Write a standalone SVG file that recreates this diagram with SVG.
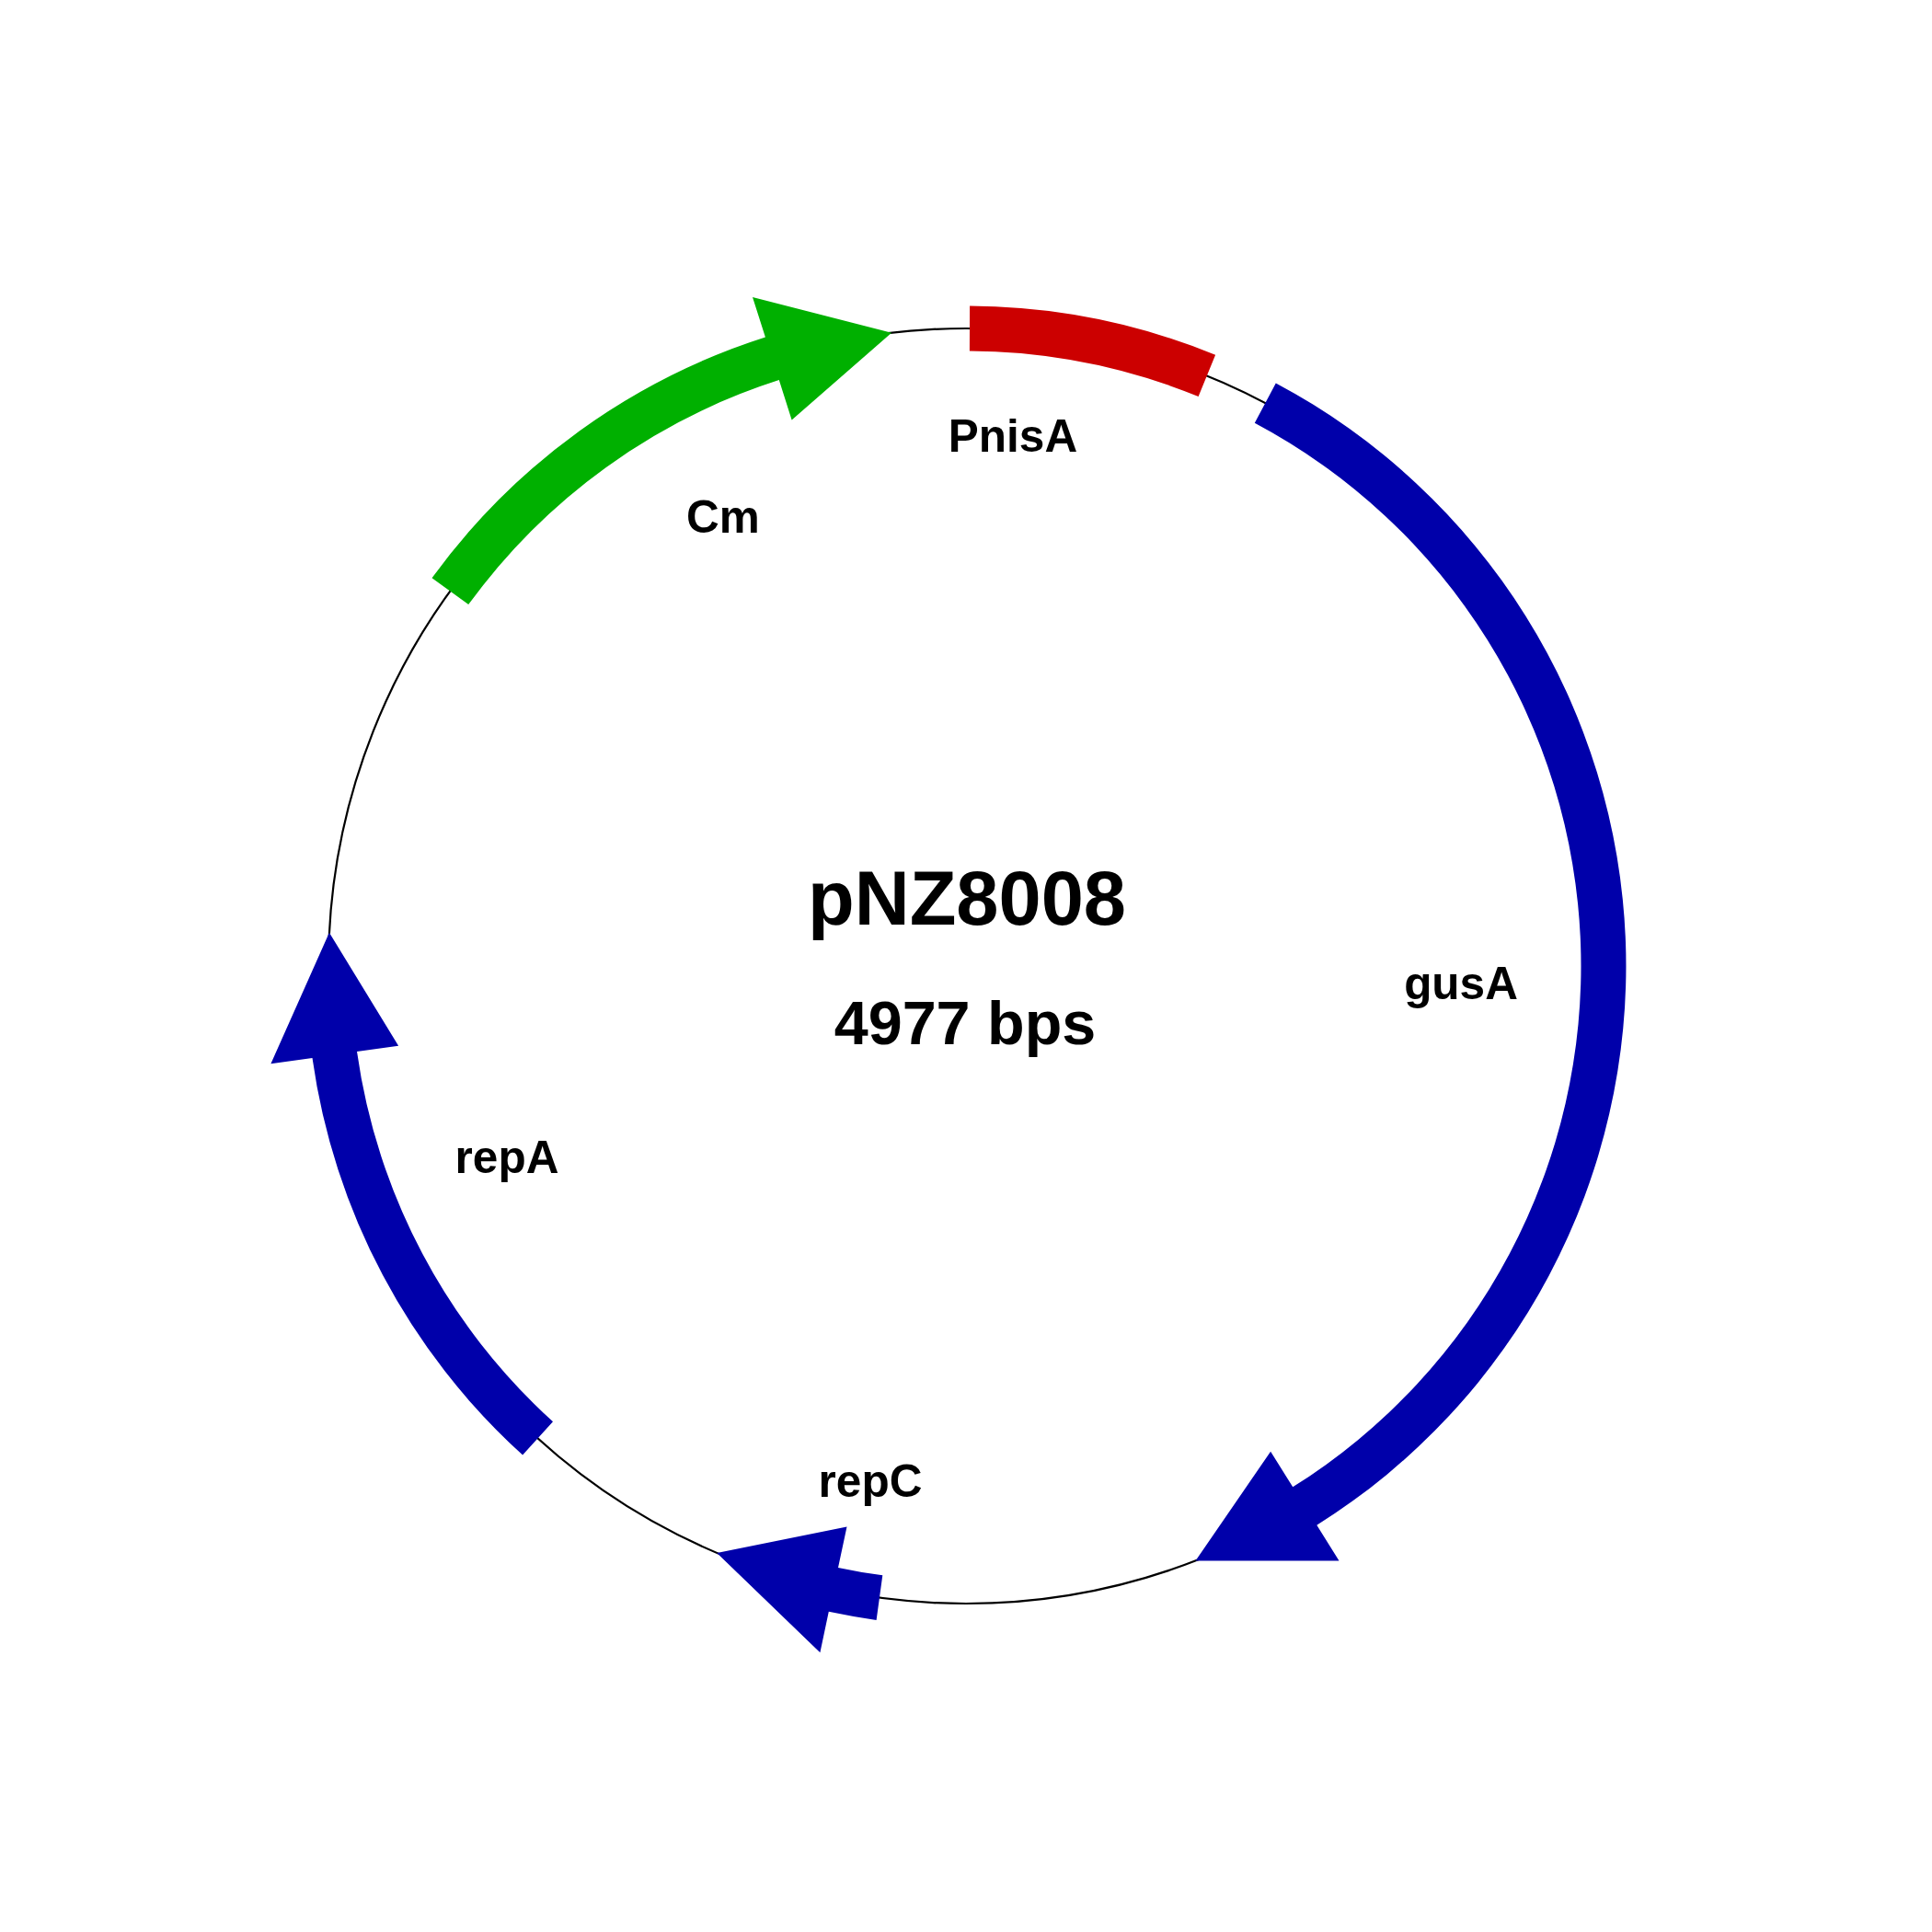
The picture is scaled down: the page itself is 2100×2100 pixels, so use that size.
<svg xmlns="http://www.w3.org/2000/svg" width="2100" height="2100" viewBox="0 0 2100 2100">
<style>
.lbl{font-family:"Liberation Sans",Arial,sans-serif;font-weight:bold;font-size:49.5px;fill:#000;text-anchor:middle}
.title{font-family:"Liberation Sans",Arial,sans-serif;font-weight:bold;fill:#000;text-anchor:middle}
.blue{fill:#0000AA}
.red{fill:#CC0000}
.green{fill:#00B000}
</style>
<rect width="2100" height="2100" fill="#fff"/>
<g id="connectors">
<circle id="backbone" cx="1050" cy="1050" r="693" fill="none" stroke="#000" stroke-width="2.2"/>
</g>
<g id="PnisA">
<path class="red" d="M1054.1,332.5 A717.5,717.5 0 0 1 1321.1,385.7 L1302.6,431.0 A668.5,668.5 0 0 0 1053.9,381.5 Z"/>
<text class="lbl" x="1101" y="491">PnisA</text>
</g>
<g id="gusA">
<path class="blue" d="M1386.8,416.5 A717.5,717.5 0 0 1 1431.3,1657.8 L1455.5,1696.4 L1299.5,1696.5 L1381.1,1577.8 L1405.2,1616.3 A668.5,668.5 0 0 0 1363.8,459.7 Z"/>
<text class="lbl" x="1588" y="1086">gusA</text>
</g>
<g id="repC">
<path class="blue" d="M952.6,1760.9 A717.5,717.5 0 0 1 900.8,1751.8 L891.4,1796.3 L779.2,1687.9 L920.5,1659.4 L911.0,1703.9 A668.5,668.5 0 0 0 959.3,1712.3 Z"/>
<text class="lbl" x="946" y="1627">repC</text>
</g>
<g id="repA">
<path class="blue" d="M568.1,1581.6 A717.5,717.5 0 0 1 339.5,1149.9 L294.4,1156.2 L357.9,1013.7 L433.1,1136.7 L388.0,1143.0 A668.5,668.5 0 0 0 601.0,1545.3 Z"/>
<text class="lbl" x="551" y="1275">repA</text>
</g>
<g id="Cm">
<path class="green" d="M469.5,628.3 A717.5,717.5 0 0 1 831.9,366.5 L818.0,323.1 L969.1,361.7 L860.6,456.5 L846.8,413.1 A668.5,668.5 0 0 0 509.2,657.1 Z"/>
<text class="lbl" x="786" y="579">Cm</text>
</g>
<g id="center">
<text class="title" x="1051" y="1005" font-size="83">pNZ8008</text>
<text class="title" x="1049" y="1135" font-size="66.5">4977 bps</text>
</g>
</svg>
